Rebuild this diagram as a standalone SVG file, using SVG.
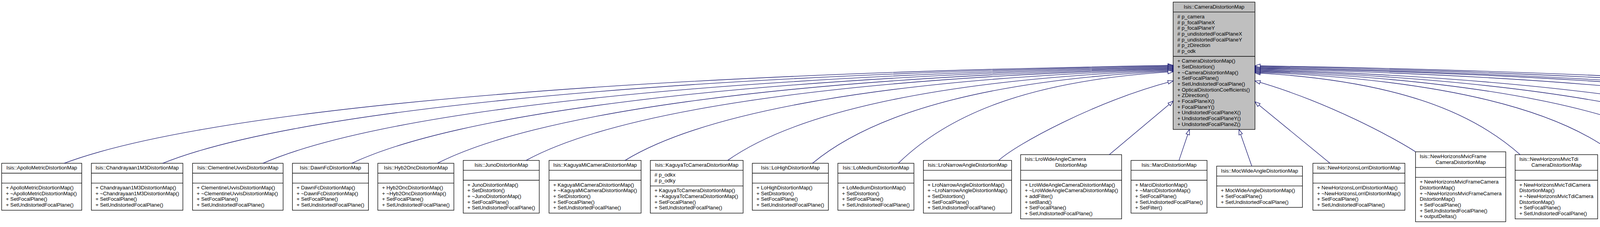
<svg xmlns="http://www.w3.org/2000/svg" width="6146" height="580" viewBox="0 0 6146 580">
<style>
text{font-family:"Liberation Sans",Arial,Helvetica,sans-serif;font-size:13.2px;fill:#000}
.m{text-anchor:middle}
.b{fill:#fff;stroke:#000;stroke-width:1.33}
.g{fill:#bfbfbf;stroke:#000;stroke-width:1.33}
.s{stroke:#000;stroke-width:1.33}
.e{fill:none;stroke:#191970;stroke-width:1.33;marker-end:url(#ah)}
</style>
<defs>
<marker id="ah" markerUnits="userSpaceOnUse" viewBox="-2 -2 17.5 13.5" markerWidth="17.5" markerHeight="13.5" refX="13.33" refY="4.67" orient="auto">
<path d="M0,0 L13.33,4.67 L0,9.33 Z" fill="#fff" stroke="#191970" stroke-width="1.33"/>
</marker>
</defs>
<rect width="6146" height="580" fill="#fff"/>

<g id="n-base">
<rect class="g" x="3003.3" y="5.33" width="209.4" height="325.41"/>
<line class="s" x1="3003.3" y1="30.67" x2="3212.7" y2="30.67"/>
<line class="s" x1="3003.3" y1="144.03" x2="3212.7" y2="144.03"/>
<text class="m" x="3108" y="21.5">Isis::CameraDistortionMap</text>
<text x="3014" y="46.87"># p_camera</text>
<text x="3014" y="61.54"># p_focalPlaneX</text>
<text x="3014" y="76.21"># p_focalPlaneY</text>
<text x="3014" y="90.88"># p_undistortedFocalPlaneX</text>
<text x="3014" y="105.55"># p_undistortedFocalPlaneY</text>
<text x="3014" y="120.22"># p_zDirection</text>
<text x="3014" y="134.89"># p_odk</text>
<text x="3014" y="160.23">+ CameraDistortionMap()</text>
<text x="3014" y="174.9">+ SetDistortion()</text>
<text x="3014" y="189.57">+ ~CameraDistortionMap()</text>
<text x="3014" y="204.24">+ SetFocalPlane()</text>
<text x="3014" y="218.91">+ SetUndistortedFocalPlane()</text>
<text x="3014" y="233.58">+ OpticalDistortionCoefficients()</text>
<text x="3014" y="248.25">+ ZDirection()</text>
<text x="3014" y="262.92">+ FocalPlaneX()</text>
<text x="3014" y="277.59">+ FocalPlaneY()</text>
<text x="3014" y="292.26">+ UndistortedFocalPlaneX()</text>
<text x="3014" y="306.93">+ UndistortedFocalPlaneY()</text>
<text x="3014" y="321.6">+ UndistortedFocalPlaneZ()</text>
</g>

<g id="n-apollo">
<rect class="b" x="4.3" y="417.2" width="205" height="120"/>
<line class="s" x1="4.3" y1="442.5" x2="209.3" y2="442.5"/>
<line class="s" x1="4.3" y1="467.9" x2="209.3" y2="467.9"/>
<text class="m" x="106.8" y="433.4">Isis::ApolloMetricDistortionMap</text>
<text x="15" y="484.1">+ ApolloMetricDistortionMap()</text>
<text x="15" y="498.8">+ ~ApolloMetricDistortionMap()</text>
<text x="15" y="513.4">+ SetFocalPlane()</text>
<text x="15" y="528.1">+ SetUndistortedFocalPlane()</text>
</g>

<g id="n-chandrayaan">
<rect class="b" x="233.9" y="417.2" width="234.3" height="120"/>
<line class="s" x1="233.9" y1="442.5" x2="468.2" y2="442.5"/>
<line class="s" x1="233.9" y1="467.9" x2="468.2" y2="467.9"/>
<text class="m" x="351.05" y="433.4">Isis::Chandrayaan1M3DistortionMap</text>
<text x="244.6" y="484.1">+ Chandrayaan1M3DistortionMap()</text>
<text x="244.6" y="498.8">+ ~Chandrayaan1M3DistortionMap()</text>
<text x="244.6" y="513.4">+ SetFocalPlane()</text>
<text x="244.6" y="528.1">+ SetUndistortedFocalPlane()</text>
</g>

<g id="n-clementine">
<rect class="b" x="492.9" y="417.2" width="231.8" height="120"/>
<line class="s" x1="492.9" y1="442.5" x2="724.7" y2="442.5"/>
<line class="s" x1="492.9" y1="467.9" x2="724.7" y2="467.9"/>
<text class="m" x="608.8" y="433.4">Isis::ClementineUvvisDistortionMap</text>
<text x="503.6" y="484.1">+ ClementineUvvisDistortionMap()</text>
<text x="503.6" y="498.8">+ ~ClementineUvvisDistortionMap()</text>
<text x="503.6" y="513.4">+ SetFocalPlane()</text>
<text x="503.6" y="528.1">+ SetUndistortedFocalPlane()</text>
</g>

<g id="n-dawnfc">
<rect class="b" x="748.6" y="417.2" width="194.7" height="120"/>
<line class="s" x1="748.6" y1="442.5" x2="943.3" y2="442.5"/>
<line class="s" x1="748.6" y1="467.9" x2="943.3" y2="467.9"/>
<text class="m" x="845.95" y="433.4">Isis::DawnFcDistortionMap</text>
<text x="759.3" y="484.1">+ DawnFcDistortionMap()</text>
<text x="759.3" y="498.8">+ ~DawnFcDistortionMap()</text>
<text x="759.3" y="513.4">+ SetFocalPlane()</text>
<text x="759.3" y="528.1">+ SetUndistortedFocalPlane()</text>
</g>

<g id="n-hyb2onc">
<rect class="b" x="967.2" y="417.2" width="194.7" height="120"/>
<line class="s" x1="967.2" y1="442.5" x2="1161.9" y2="442.5"/>
<line class="s" x1="967.2" y1="467.9" x2="1161.9" y2="467.9"/>
<text class="m" x="1064.55" y="433.4">Isis::Hyb2OncDistortionMap</text>
<text x="977.9" y="484.1">+ Hyb2OncDistortionMap()</text>
<text x="977.9" y="498.8">+ ~Hyb2OncDistortionMap()</text>
<text x="977.9" y="513.4">+ SetFocalPlane()</text>
<text x="977.9" y="528.1">+ SetUndistortedFocalPlane()</text>
</g>

<g id="n-juno">
<rect class="b" x="1185.9" y="409.85" width="194.6" height="134.7"/>
<line class="s" x1="1185.9" y1="435.2" x2="1380.5" y2="435.2"/>
<line class="s" x1="1185.9" y1="460.5" x2="1380.5" y2="460.5"/>
<text class="m" x="1283.2" y="426.05">Isis::JunoDistortionMap</text>
<text x="1196.6" y="476.7">+ JunoDistortionMap()</text>
<text x="1196.6" y="491.4">+ SetDistortion()</text>
<text x="1196.6" y="506">+ ~JunoDistortionMap()</text>
<text x="1196.6" y="520.7">+ SetFocalPlane()</text>
<text x="1196.6" y="535.4">+ SetUndistortedFocalPlane()</text>
</g>

<g id="n-kaguyami">
<rect class="b" x="1405.5" y="409.85" width="235.7" height="134.7"/>
<line class="s" x1="1405.5" y1="435.2" x2="1641.2" y2="435.2"/>
<line class="s" x1="1405.5" y1="460.5" x2="1641.2" y2="460.5"/>
<text class="m" x="1523.35" y="426.05">Isis::KaguyaMiCameraDistortionMap</text>
<text x="1416.2" y="476.7">+ KaguyaMiCameraDistortionMap()</text>
<text x="1416.2" y="491.4">+ ~KaguyaMiCameraDistortionMap()</text>
<text x="1416.2" y="506">+ SetDistortion()</text>
<text x="1416.2" y="520.7">+ SetFocalPlane()</text>
<text x="1416.2" y="535.4">+ SetUndistortedFocalPlane()</text>
</g>

<g id="n-kaguyatc">
<rect class="b" x="1664.8" y="409.85" width="237.6" height="134.7"/>
<line class="s" x1="1664.8" y1="435.2" x2="1902.4" y2="435.2"/>
<line class="s" x1="1664.8" y1="475.2" x2="1902.4" y2="475.2"/>
<text class="m" x="1783.6" y="426.05">Isis::KaguyaTcCameraDistortionMap</text>
<text x="1675.5" y="451.4"># p_odkx</text>
<text x="1675.5" y="466.1"># p_odky</text>
<text x="1675.5" y="491.4">+ KaguyaTcCameraDistortionMap()</text>
<text x="1675.5" y="506.1">+ ~KaguyaTcCameraDistortionMap()</text>
<text x="1675.5" y="520.7">+ SetFocalPlane()</text>
<text x="1675.5" y="535.4">+ SetUndistortedFocalPlane()</text>
</g>

<g id="n-lohigh">
<rect class="b" x="1925.9" y="417.2" width="194.7" height="120"/>
<line class="s" x1="1925.9" y1="442.5" x2="2120.6" y2="442.5"/>
<line class="s" x1="1925.9" y1="467.9" x2="2120.6" y2="467.9"/>
<text class="m" x="2023.25" y="433.4">Isis::LoHighDistortionMap</text>
<text x="1936.6" y="484.1">+ LoHighDistortionMap()</text>
<text x="1936.6" y="498.8">+ SetDistortion()</text>
<text x="1936.6" y="513.4">+ SetFocalPlane()</text>
<text x="1936.6" y="528.1">+ SetUndistortedFocalPlane()</text>
</g>

<g id="n-lomedium">
<rect class="b" x="2144.9" y="417.2" width="194.7" height="120"/>
<line class="s" x1="2144.9" y1="442.5" x2="2339.6" y2="442.5"/>
<line class="s" x1="2144.9" y1="467.9" x2="2339.6" y2="467.9"/>
<text class="m" x="2242.25" y="433.4">Isis::LoMediumDistortionMap</text>
<text x="2155.6" y="484.1">+ LoMediumDistortionMap()</text>
<text x="2155.6" y="498.8">+ SetDistortion()</text>
<text x="2155.6" y="513.4">+ SetFocalPlane()</text>
<text x="2155.6" y="528.1">+ SetUndistortedFocalPlane()</text>
</g>

<g id="n-lronarrow">
<rect class="b" x="2363.9" y="409.85" width="225.7" height="134.7"/>
<line class="s" x1="2363.9" y1="435.2" x2="2589.6" y2="435.2"/>
<line class="s" x1="2363.9" y1="460.5" x2="2589.6" y2="460.5"/>
<text class="m" x="2476.75" y="426.05">Isis::LroNarrowAngleDistortionMap</text>
<text x="2374.6" y="476.7">+ LroNarrowAngleDistortionMap()</text>
<text x="2374.6" y="491.4">+ ~LroNarrowAngleDistortionMap()</text>
<text x="2374.6" y="506">+ SetDistortion()</text>
<text x="2374.6" y="520.7">+ SetFocalPlane()</text>
<text x="2374.6" y="535.4">+ SetUndistortedFocalPlane()</text>
</g>

<g id="n-lrowide">
<rect class="b" x="2612.8" y="395.18" width="258.6" height="164.04"/>
<line class="s" x1="2612.8" y1="435.2" x2="2871.4" y2="435.2"/>
<line class="s" x1="2612.8" y1="460.5" x2="2871.4" y2="460.5"/>
<text x="2623.5" y="411.4">Isis::LroWideAngleCamera</text>
<text class="m" x="2742.1" y="426.1">DistortionMap</text>
<text x="2623.5" y="476.7">+ LroWideAngleCameraDistortionMap()</text>
<text x="2623.5" y="491.4">+ ~LroWideAngleCameraDistortionMap()</text>
<text x="2623.5" y="506">+ addFilter()</text>
<text x="2623.5" y="520.7">+ setBand()</text>
<text x="2623.5" y="535.4">+ SetFocalPlane()</text>
<text x="2623.5" y="550">+ SetUndistortedFocalPlane()</text>
</g>

<g id="n-marci">
<rect class="b" x="2895.4" y="409.85" width="194.6" height="134.7"/>
<line class="s" x1="2895.4" y1="435.2" x2="3090" y2="435.2"/>
<line class="s" x1="2895.4" y1="460.5" x2="3090" y2="460.5"/>
<text class="m" x="2992.7" y="426.05">Isis::MarciDistortionMap</text>
<text x="2906.1" y="476.7">+ MarciDistortionMap()</text>
<text x="2906.1" y="491.4">+ ~MarciDistortionMap()</text>
<text x="2906.1" y="506">+ SetFocalPlane()</text>
<text x="2906.1" y="520.7">+ SetUndistortedFocalPlane()</text>
<text x="2906.1" y="535.4">+ SetFilter()</text>
</g>

<g id="n-mocwide">
<rect class="b" x="3114.6" y="424.52" width="219.7" height="105.36"/>
<line class="s" x1="3114.6" y1="449.86" x2="3334.3" y2="449.86"/>
<line class="s" x1="3114.6" y1="475.2" x2="3334.3" y2="475.2"/>
<text class="m" x="3224.45" y="440.7">Isis::MocWideAngleDistortionMap</text>
<text x="3125.3" y="491.4">+ MocWideAngleDistortionMap()</text>
<text x="3125.3" y="506.1">+ SetFocalPlane()</text>
<text x="3125.3" y="520.7">+ SetUndistortedFocalPlane()</text>
</g>

<g id="n-lorri">
<rect class="b" x="3361" y="417.2" width="235.5" height="120"/>
<line class="s" x1="3361" y1="442.5" x2="3596.5" y2="442.5"/>
<line class="s" x1="3361" y1="467.9" x2="3596.5" y2="467.9"/>
<text class="m" x="3478.75" y="433.4">Isis::NewHorizonsLorriDistortionMap</text>
<text x="3371.7" y="484.1">+ NewHorizonsLorriDistortionMap()</text>
<text x="3371.7" y="498.8">+ ~NewHorizonsLorriDistortionMap()</text>
<text x="3371.7" y="513.4">+ SetFocalPlane()</text>
<text x="3371.7" y="528.1">+ SetUndistortedFocalPlane()</text>
</g>

<g id="n-mvicframe">
<rect class="b" x="3623.7" y="387.85" width="231" height="178.71"/>
<line class="s" x1="3623.7" y1="427.86" x2="3854.7" y2="427.86"/>
<line class="s" x1="3623.7" y1="453.2" x2="3854.7" y2="453.2"/>
<text x="3634.4" y="404.05">Isis::NewHorizonsMvicFrame</text>
<text class="m" x="3739.2" y="418.7">CameraDistortionMap</text>
<text x="3634.4" y="469.4">+ NewHorizonsMvicFrameCamera</text>
<text x="3634.4" y="484.1">DistortionMap()</text>
<text x="3634.4" y="498.7">+ ~NewHorizonsMvicFrameCamera</text>
<text x="3634.4" y="513.4">DistortionMap()</text>
<text x="3634.4" y="528.1">+ SetFocalPlane()</text>
<text x="3634.4" y="542.7">+ SetUndistortedFocalPlane()</text>
<text x="3634.4" y="557.4">+ outputDeltas()</text>
</g>

<g id="n-mvictdi">
<rect class="b" x="3878.7" y="395.18" width="211.3" height="164.04"/>
<line class="s" x1="3878.7" y1="435.2" x2="4090" y2="435.2"/>
<line class="s" x1="3878.7" y1="460.5" x2="4090" y2="460.5"/>
<text x="3889.4" y="411.4">Isis::NewHorizonsMvicTdi</text>
<text class="m" x="3984.35" y="426.1">CameraDistortionMap</text>
<text x="3889.4" y="476.7">+ NewHorizonsMvicTdiCamera</text>
<text x="3889.4" y="491.4">DistortionMap()</text>
<text x="3889.4" y="506">+ ~NewHorizonsMvicTdiCamera</text>
<text x="3889.4" y="520.7">DistortionMap()</text>
<text x="3889.4" y="535.4">+ SetFocalPlane()</text>
<text x="3889.4" y="550">+ SetUndistortedFocalPlane()</text>
</g>

<g id="n-osirisrex">
<rect class="b" x="4114" y="380.51" width="194.8" height="193.38"/>
<line class="s" x1="4114" y1="405.85" x2="4308.8" y2="405.85"/>
<line class="s" x1="4114" y1="489.87" x2="4308.8" y2="489.87"/>
<text class="m" x="4211.4" y="396.7">Isis::OsirisRexDistortionMap</text>
<text x="4124.7" y="422.05"># m_pixelPitch</text>
<text x="4124.7" y="436.7"># m_detectorOriginSample</text>
<text x="4124.7" y="451.4"># m_detectorOriginLine</text>
<text x="4124.7" y="466.1"># m_distortionOriginSample</text>
<text x="4124.7" y="480.7"># m_distortionOriginLine</text>
<text x="4124.7" y="506.07">+ OsirisRexDistortionMap()</text>
<text x="4124.7" y="520.7">+ ~OsirisRexDistortionMap()</text>
<text x="4124.7" y="535.4">+ SetDistortion()</text>
<text x="4124.7" y="550.1">+ SetFocalPlane()</text>
<text x="4124.7" y="564.7">+ SetUndistortedFocalPlane()</text>
</g>

<g id="n-radarslant">
<rect class="b" x="4332.8" y="402.52" width="194.8" height="149.37"/>
<line class="s" x1="4332.8" y1="427.86" x2="4527.6" y2="427.86"/>
<line class="s" x1="4332.8" y1="453.2" x2="4527.6" y2="453.2"/>
<text class="m" x="4430.2" y="418.7">Isis::RadarSlantRangeMap</text>
<text x="4343.5" y="469.4">+ RadarSlantRangeMap()</text>
<text x="4343.5" y="484.1">+ ~RadarSlantRangeMap()</text>
<text x="4343.5" y="498.7">+ SetFocalPlane()</text>
<text x="4343.5" y="513.4">+ SetUndistortedFocalPlane()</text>
<text x="4343.5" y="528.1">+ SetCoefficients()</text>
<text x="4343.5" y="542.7">+ SetWeightFactors()</text>
</g>

<g id="n-radial">
<rect class="b" x="4551.6" y="417.2" width="194.8" height="120"/>
<line class="s" x1="4551.6" y1="442.5" x2="4746.4" y2="442.5"/>
<line class="s" x1="4551.6" y1="467.9" x2="4746.4" y2="467.9"/>
<text class="m" x="4649" y="433.4">Isis::RadialDistortionMap</text>
<text x="4562.3" y="484.1">+ RadialDistortionMap()</text>
<text x="4562.3" y="498.8">+ ~RadialDistortionMap()</text>
<text x="4562.3" y="513.4">+ SetFocalPlane()</text>
<text x="4562.3" y="528.1">+ SetUndistortedFocalPlane()</text>
</g>

<g id="n-reseau">
<rect class="b" x="4770.4" y="424.52" width="194.8" height="105.36"/>
<line class="s" x1="4770.4" y1="449.86" x2="4965.2" y2="449.86"/>
<line class="s" x1="4770.4" y1="475.2" x2="4965.2" y2="475.2"/>
<text class="m" x="4867.8" y="440.7">Isis::ReseauDistortionMap</text>
<text x="4781.1" y="491.4">+ ReseauDistortionMap()</text>
<text x="4781.1" y="506.1">+ SetFocalPlane()</text>
<text x="4781.1" y="520.7">+ SetUndistortedFocalPlane()</text>
</g>

<g id="n-rosettaosiris">
<rect class="b" x="4989.2" y="380.51" width="256.8" height="193.38"/>
<line class="s" x1="4989.2" y1="420.52" x2="5246" y2="420.52"/>
<line class="s" x1="4989.2" y1="445.86" x2="5246" y2="445.86"/>
<text x="4999.9" y="396.7">Isis::RosettaOsirisCamera</text>
<text class="m" x="5117.6" y="411.4">DistortionMap</text>
<text x="4999.9" y="462.06">+ RosettaOsirisCameraDistortionMap()</text>
<text x="4999.9" y="476.7">+ ~RosettaOsirisCameraDistortionMap()</text>
<text x="4999.9" y="491.4">+ SetFocalPlane()</text>
<text x="4999.9" y="506.1">+ SetUndistortedFocalPlane()</text>
<text x="4999.9" y="520.7">+ setUnDistortedXMatrix()</text>
<text x="4999.9" y="535.4">+ setUnDistortedYMatrix()</text>
<text x="4999.9" y="550.1">+ setBoresight()</text>
<text x="4999.9" y="564.7">+ setPixelPitch()</text>
</g>

<g id="n-taylor">
<rect class="b" x="5270" y="387.85" width="214.3" height="178.71"/>
<line class="s" x1="5270" y1="413.19" x2="5484.3" y2="413.19"/>
<line class="s" x1="5270" y1="453.2" x2="5484.3" y2="453.2"/>
<text class="m" x="5377.15" y="404.05">Isis::TaylorCameraDistortionMap</text>
<text x="5280.7" y="429.4"># p_odtx</text>
<text x="5280.7" y="444.1"># p_odty</text>
<text x="5280.7" y="469.4">+ TaylorCameraDistortionMap()</text>
<text x="5280.7" y="484.1">+ SetDistortion()</text>
<text x="5280.7" y="498.7">+ ~TaylorCameraDistortionMap()</text>
<text x="5280.7" y="513.4">+ SetFocalPlane()</text>
<text x="5280.7" y="528.1">+ SetUndistortedFocalPlane()</text>
<text x="5280.7" y="542.7"># DistortionFunction()</text>
<text x="5280.7" y="557.4"># DistortionFunctionJacobian()</text>
</g>

<g id="n-tgocassis">
<rect class="b" x="5508.3" y="417.2" width="194.8" height="120"/>
<line class="s" x1="5508.3" y1="442.5" x2="5703.1" y2="442.5"/>
<line class="s" x1="5508.3" y1="467.9" x2="5703.1" y2="467.9"/>
<text class="m" x="5605.7" y="433.4">Isis::TgoCassisDistortionMap</text>
<text x="5519" y="484.1">+ TgoCassisDistortionMap()</text>
<text x="5519" y="498.8">+ ~TgoCassisDistortionMap()</text>
<text x="5519" y="513.4">+ SetFocalPlane()</text>
<text x="5519" y="528.1">+ SetUndistortedFocalPlane()</text>
</g>

<g id="n-themisir">
<rect class="b" x="5727.1" y="417.2" width="194.8" height="120"/>
<line class="s" x1="5727.1" y1="442.5" x2="5921.9" y2="442.5"/>
<line class="s" x1="5727.1" y1="467.9" x2="5921.9" y2="467.9"/>
<text class="m" x="5824.5" y="433.4">Isis::ThemisIrDistortionMap</text>
<text x="5737.8" y="484.1">+ ThemisIrDistortionMap()</text>
<text x="5737.8" y="498.8">+ SetFocalPlane()</text>
<text x="5737.8" y="513.4">+ SetUndistortedFocalPlane()</text>
<text x="5737.8" y="528.1">+ SetBand()</text>
</g>

<g id="n-themisvis">
<rect class="b" x="5945.9" y="417.2" width="194.8" height="120"/>
<line class="s" x1="5945.9" y1="442.5" x2="6140.7" y2="442.5"/>
<line class="s" x1="5945.9" y1="467.9" x2="6140.7" y2="467.9"/>
<text class="m" x="6043.3" y="433.4">Isis::ThemisVisDistortionMap</text>
<text x="5956.6" y="484.1">+ ThemisVisDistortionMap()</text>
<text x="5956.6" y="498.8">+ ~ThemisVisDistortionMap()</text>
<text x="5956.6" y="513.4">+ SetFocalPlane()</text>
<text x="5956.6" y="528.1">+ SetUndistortedFocalPlane()</text>
</g>

<g id="connectors">
<path class="e" d="M164.3,417.2 C498.2,292.1 1441.9,192 3003.3,167"/>
<path class="e" d="M416.8,417.2 C725.5,293 1580.7,193.6 3003.3,168.8"/>
<path class="e" d="M673.3,417.2 C956.3,293.9 1721.8,195.3 3003.3,170.6"/>
<path class="e" d="M900.8,417.2 C1161.1,294.8 1846.9,196.9 3003.3,172.4"/>
<path class="e" d="M1119.8,417.2 C1358.2,295.7 1967.4,198.5 3003.3,174.2"/>
<path class="e" d="M1346.6,409.85 C1562.3,292.9 2092.1,199.4 3003.3,176"/>
<path class="e" d="M1600.1,409.85 C1790.4,293.8 2231.5,201 3003.3,177.8"/>
<path class="e" d="M1862.7,409.85 C2026.8,294.7 2376,202.6 3003.3,179.6"/>
<path class="e" d="M2079.9,417.2 C2222.2,299.3 2495.4,205 3003.3,181.4"/>
<path class="e" d="M2299.6,417.2 C2420,300.2 2616.3,206.6 3003.3,183.2"/>
<path class="e" d="M2556.7,409.85 C2600,370 2800,260 3003.3,206.7"/>
<path class="e" d="M2839.6,395.18 L3003.3,258.3"/>
<path class="e" d="M3018.2,409.85 L3045,330.74"/>
<path class="e" d="M3204.6,424.52 L3171.7,330.74"/>
<path class="e" d="M3405,417.2 L3212.7,260"/>
<path class="e" d="M3623.7,387.85 C3573,355 3400,260 3212.7,206.7"/>
<path class="e" d="M3891.7,395.18 C3773.8,290.6 3586.1,206.9 3212.7,186"/>
<path class="e" d="M4116,380.51 C3975.7,282.3 3709.5,203.7 3212.7,184"/>
<path class="e" d="M4353.8,402.52 C4189.7,292.3 3840.3,204.05 3212.7,182"/>
<path class="e" d="M4591.6,417.2 C4403.7,298.6 3971.1,203.7 3212.7,180"/>
<path class="e" d="M4818.4,424.52 C4607.8,301.5 4095.8,202.6 3212.7,178"/>
<path class="e" d="M4990.2,380.51 C4762.5,278.8 4190.3,196.35 3212.7,176"/>
<path class="e" d="M5274,387.85 C5017.9,281.7 4346.4,195.2 3212.7,174"/>
<path class="e" d="M5550.3,417.2 C5266.5,295.6 4498.4,196.3 3212.7,172"/>
<path class="e" d="M5767.1,417.2 C5461.7,294.85 4617.6,194.5 3212.7,170"/>
<path class="e" d="M5986.9,417.2 C5659.5,294.1 4738.5,192.6 3212.7,168"/>
</g>
</svg>
